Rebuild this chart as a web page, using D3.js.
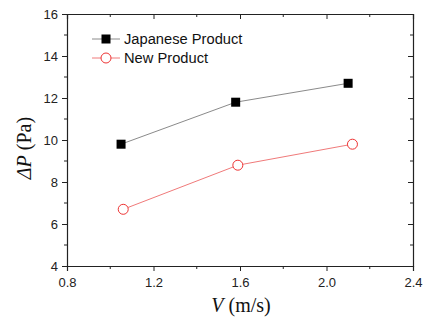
<!DOCTYPE html>
<html><head><meta charset="utf-8">
<script src="https://cdn.jsdelivr.net/npm/d3@7"></script>
<style>body{margin:0;background:#fff}</style>
</head><body>
<svg id="c" width="424" height="322"></svg>
<script>
const seriesNames = ["Japanese Product", "New Product"];
const japaneseV = [1.05, 1.58, 2.10];
const japaneseP = [9.8, 11.8, 12.7];
const newV = [1.06, 1.59, 2.12];
const newP = [6.7, 8.8, 9.8];
const xTicks = [0.8, 1.2, 1.6, 2.0, 2.4];
const yTicks = [4, 6, 8, 10, 12, 14, 16];

const svg = d3.select("#c");
const L = 67, R = 413, T = 14, B = 266;
const x = d3.scaleLinear().domain([0.8, 2.4]).range([L, R]);
const y = d3.scaleLinear().domain([4, 16]).range([B, T]);
const axisColor = "#222";

const xMinor = d3.range(0.8, 2.41, 0.2);
const yMinor = d3.range(4, 16.01, 1);

// bottom axis
const gx = svg.append("g").attr("transform", `translate(0,${B})`)
  .call(d3.axisBottom(x).tickValues(xTicks).tickFormat(d3.format(".1f")).tickSizeOuter(0).tickSize(5));
gx.append("g").selectAll("line").data(xMinor.filter(v => !xTicks.some(t => Math.abs(t - v) < 1e-6)))
  .join("line").attr("x1", d => x(d)).attr("x2", d => x(d)).attr("y1", 0).attr("y2", 3).attr("stroke", axisColor);
// left axis
const gy = svg.append("g").attr("transform", `translate(${L},0)`)
  .call(d3.axisLeft(y).tickValues(yTicks).tickSizeOuter(0).tickSize(5));
gy.append("g").selectAll("line").data(yMinor.filter(v => !yTicks.includes(Math.round(v))))
  .join("line").attr("y1", d => y(d)).attr("y2", d => y(d)).attr("x1", 0).attr("x2", -3).attr("stroke", axisColor);
// top axis (inward ticks)
const gt = svg.append("g").attr("transform", `translate(0,${T})`)
  .call(d3.axisTop(x).tickValues(xTicks).tickFormat("").tickSizeOuter(0).tickSize(-5));
gt.append("g").selectAll("line").data(xMinor.filter(v => !xTicks.some(t => Math.abs(t - v) < 1e-6)))
  .join("line").attr("x1", d => x(d)).attr("x2", d => x(d)).attr("y1", 0).attr("y2", 3).attr("stroke", axisColor);
// right axis (inward ticks)
const gr = svg.append("g").attr("transform", `translate(${R},0)`)
  .call(d3.axisRight(y).tickValues(yTicks).tickFormat("").tickSizeOuter(0).tickSize(-5));
gr.append("g").selectAll("line").data(yMinor.filter(v => !yTicks.includes(Math.round(v))))
  .join("line").attr("y1", d => y(d)).attr("y2", d => y(d)).attr("x1", 0).attr("x2", -3).attr("stroke", axisColor);

svg.selectAll(".domain").attr("stroke", axisColor).attr("stroke-width", 1.2);
svg.selectAll(".tick line").attr("stroke", axisColor);
svg.selectAll(".tick text").attr("font-family", "Liberation Sans, Arial, sans-serif").attr("font-size", 13).attr("fill", "#222");
gx.selectAll(".tick text").attr("dy", "1em");
gy.selectAll(".tick text").attr("x", -9);

const jp = japaneseV.map((v, i) => [v, japaneseP[i]]);
const np = newV.map((v, i) => [v, newP[i]]);
const line = d3.line().x(d => x(d[0])).y(d => y(d[1]));
const jpLine = "#8a8a8a", npLine = "#f07a7a", npMark = "#ee3333";

svg.append("path").attr("d", line(jp)).attr("fill", "none").attr("stroke", jpLine).attr("stroke-width", 1);
svg.append("path").attr("d", line(np)).attr("fill", "none").attr("stroke", npLine).attr("stroke-width", 1);
svg.selectAll(".sq").data(jp).join("rect").attr("class", "sq")
  .attr("x", d => x(d[0]) - 4.5).attr("y", d => y(d[1]) - 4.5).attr("width", 9).attr("height", 9).attr("fill", "#000");
svg.selectAll(".ci").data(np).join("circle").attr("class", "ci")
  .attr("cx", d => x(d[0])).attr("cy", d => y(d[1])).attr("r", 5).attr("fill", "#fff").attr("stroke", npMark).attr("stroke-width", 1);

// legend
const lg = svg.append("g");
const ly = [39, 58];
lg.append("line").attr("x1", 92).attr("x2", 120).attr("y1", ly[0]).attr("y2", ly[0]).attr("stroke", jpLine);
lg.append("rect").attr("x", 101.5).attr("y", ly[0] - 4.5).attr("width", 9).attr("height", 9).attr("fill", "#000");
lg.append("line").attr("x1", 92).attr("x2", 120).attr("y1", ly[1]).attr("y2", ly[1]).attr("stroke", npLine);
lg.append("circle").attr("cx", 106).attr("cy", ly[1]).attr("r", 5).attr("fill", "#fff").attr("stroke", npMark);
lg.selectAll("text").data(seriesNames).join("text")
  .attr("x", 124).attr("y", (d, i) => ly[i]).attr("dy", "0.35em")
  .attr("font-family", "Liberation Sans, Arial, sans-serif").attr("font-size", 14.7).attr("fill", "#111").text(d => d);

// axis titles
const xt = svg.append("text").attr("x", 241).attr("y", 312).attr("text-anchor", "middle")
  .attr("font-family", "Liberation Serif, Times New Roman, serif").attr("font-size", 20).attr("fill", "#111");
xt.append("tspan").attr("font-style", "italic").text("V");
xt.append("tspan").text(" (m/s)");
const yt = svg.append("text").attr("transform", "translate(31,148) rotate(-90)").attr("text-anchor", "middle")
  .attr("font-family", "Liberation Serif, Times New Roman, serif").attr("font-size", 20).attr("fill", "#111");
yt.append("tspan").attr("font-style", "italic").text("ΔP");
yt.append("tspan").text(" (Pa)");
</script>
</body></html>
